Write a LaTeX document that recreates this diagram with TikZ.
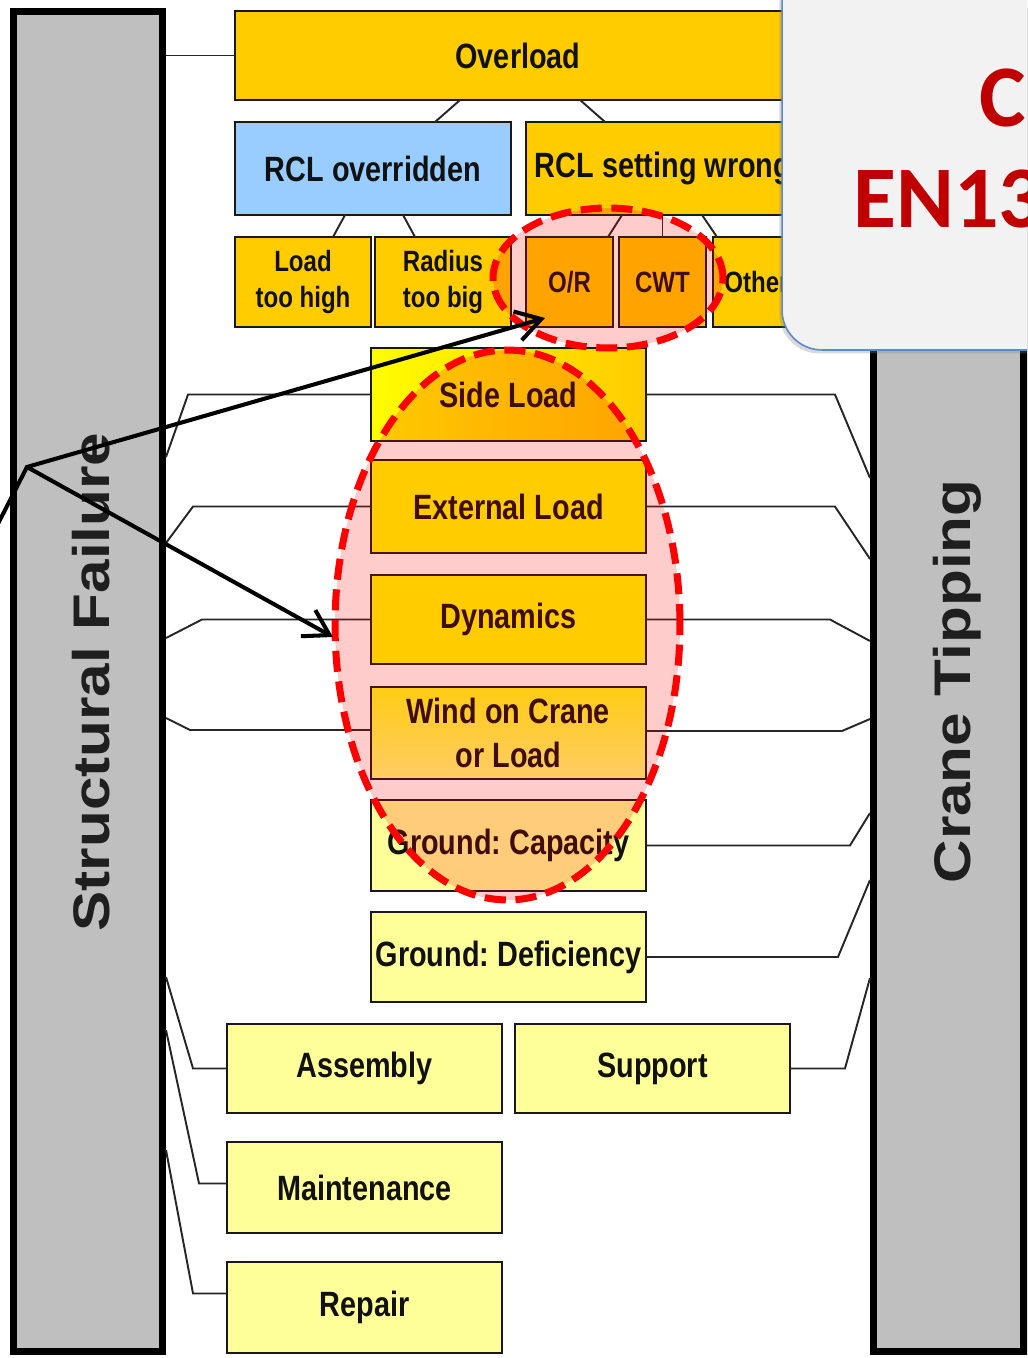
\documentclass[tikz,border=0pt]{standalone}
\usepackage{fontspec}
\setmainfont{Liberation Sans}
\newfontfamily\narrowfont[FakeStretch=0.82]{Liberation Sans}
\newfontfamily\widefont[FakeStretch=1.17]{Liberation Sans}
\newfontfamily\calfont{Carlito}
\usetikzlibrary{shapes.geometric,arrows.meta,calc,shadows}
\definecolor{gold}{HTML}{FFCC00}
\definecolor{lblue}{HTML}{99CCFF}
\definecolor{pyellow}{HTML}{FFFF99}
\definecolor{yel}{HTML}{FFFF00}
\definecolor{windyel}{HTML}{FFFF80}
\definecolor{panelgray}{HTML}{BFBFBF}
\definecolor{calloutbg}{HTML}{F2F2F2}
\definecolor{calloutedge}{HTML}{5B8BC9}
\definecolor{darkred}{HTML}{C00000}
\definecolor{txt}{HTML}{111111}
\frenchspacing
\begin{document}
\begin{tikzpicture}[x=0.02cm,y=-0.02cm,
  box/.style={draw=black!90, line width=1.1pt, inner sep=0pt, outer sep=0pt, align=center,
    font=\narrowfont\bfseries\fontsize{20}{25}\selectfont, text=txt},
  smallbox/.style={box, font=\narrowfont\bfseries\fontsize{16.7}{21}\selectfont},
  panel/.style={draw=black, line width=4pt, fill=panelgray, inner sep=0pt},
  paneltext/.style={rotate=90, anchor=base, inner sep=0pt, font=\widefont\bfseries\fontsize{29.3}{34}\selectfont, text=black!88},
  conn/.style={line width=1.1pt, draw=black!85},
  halo/.style={ellipse, inner sep=0pt, fill=red, fill opacity=0.2, draw=red, draw opacity=1,
    line width=4pt, dash pattern=on 12pt off 5.5pt},
  pointer/.style={line width=2.3pt, draw=black, line join=miter},
  tipped/.style={pointer, -{Straight Barb[length=14pt,width=17pt]}}
]
\useasboundingbox (0,0) rectangle (1027,1358);
\clip (0,0) rectangle (1027,1358);

% side panels
\node[panel, minimum width=2.98cm, minimum height=26.82cm] (sfp) at (88,681.5) {};
\node[panel, minimum width=3.01cm, minimum height=26.82cm] (ctp) at (948.75,681.5) {};
\node[paneltext] (sftext) at (109,682) {Structural Failure};
\node[paneltext] (cttext) at (970,681.5) {Crane Tipping};

% boxes
\node[box, fill=gold, minimum width=11.32cm, minimum height=1.78cm] (overload) at (518,55.5) {Overload};
\node[box, fill=lblue, minimum width=5.52cm, minimum height=1.86cm] (rclov) at (373,168.5) {RCL overridden};
\node[box, fill=gold, minimum width=5.48cm, minimum height=1.86cm] (rclset) at (663,168.5) {RCL setting wrong};
\node[smallbox, fill=gold, minimum width=2.72cm, minimum height=1.8cm] (load) at (303,282) {Load\\too high};
\node[smallbox, fill=gold, minimum width=2.72cm, minimum height=1.8cm] (radius) at (443,282) {Radius\\too big};
\node[smallbox, fill=gold, minimum width=1.74cm, minimum height=1.8cm] (or) at (569.5,282) {O/R};
\node[smallbox, fill=gold, minimum width=1.74cm, minimum height=1.8cm] (cwt) at (662.5,282) {CWT};
\node[smallbox, fill=gold, minimum width=1.74cm, minimum height=1.8cm, anchor=west] (other) at (713,282) {Other};
\node[box, left color=yel!95!gold, right color=gold, minimum width=5.5cm, minimum height=1.86cm] (sideload) at (508.5,394.5) {Side Load};
\node[box, fill=yel, minimum width=5.5cm, minimum height=1.86cm] (external) at (508.5,506.5) {External Load};
\node[box, fill=yel, minimum width=5.5cm, minimum height=1.78cm] (dynamics) at (508.5,619.5) {Dynamics};
\node[box, top color=yel!80!windyel, bottom color=windyel, minimum width=5.5cm, minimum height=1.84cm] (wind) at (508.5,733) {Wind on Crane\\or Load};
\node[box, fill=pyellow, minimum width=5.5cm, minimum height=1.82cm] (gcap) at (508.5,845.5) {Ground: Capacity};
\node[box, fill=pyellow, minimum width=5.5cm, minimum height=1.8cm] (gdef) at (508.5,957) {Ground: Deficiency};
\node[box, fill=pyellow, minimum width=5.5cm, minimum height=1.78cm] (assembly) at (364.5,1068.5) {Assembly};
\node[box, fill=pyellow, minimum width=5.5cm, minimum height=1.78cm] (support) at (652.5,1068.5) {Support};
\node[box, fill=pyellow, minimum width=5.5cm, minimum height=1.82cm] (maint) at (364.5,1187.5) {Maintenance};
\node[box, fill=pyellow, minimum width=5.5cm, minimum height=1.82cm] (repair) at (364.5,1307.5) {Repair};

% tree connectors
\draw[conn] ($(overload.south west)+(225,0)$) -- ($(rclov.north west)+(200,0)$);
\draw[conn] ($(overload.south west)+(345,0)$) -- ($(rclset.north west)+(79,0)$);
\draw[conn] ($(rclov.south west)+(110,0)$) -- ($(load.north west)+(98,0)$);
\draw[conn] ($(rclov.south west)+(168,0)$) -- ($(radius.north west)+(40,0)$);
\draw[conn] ($(rclset.south west)+(96,0)$) -- ($(or.north west)+(82,0)$);
\draw[conn] (cwt.north |- rclset.south) -- (cwt.north);
\draw[conn] ($(rclset.south west)+(176,0)$) -- ($(other.north west)+(4,0)$);

% connectors to Structural Failure
\draw[conn] (overload.west) -- (overload.west -| sfp.east);
\draw[conn] (sideload.west) -- ++(-183,0) -- (sfp.east |- 0,457);
\draw[conn] (external.west) -- ++(-178,0) -- (sfp.east |- 0,543);
\draw[conn] (dynamics.west) -- ++(-169,0) -- (sfp.east |- 0,638);
\draw[conn] ($(wind.west)+(0,-3)$) -- ++(-181,0) -- (sfp.east |- 0,718);
\draw[conn] (assembly.west) -- ++(-34,0) -- (sfp.east |- 0,977);
\draw[conn] ($(maint.west)+(0,-4)$) -- ++(-28,0) -- (sfp.east |- 0,1030);
\draw[conn] ($(repair.west)+(0,-14)$) -- ++(-34,0) -- (sfp.east |- 0,1150);

% connectors to Crane Tipping
\draw[conn] (sideload.east) -- ++(189,0) -- (ctp.west |- 0,478);
\draw[conn] (external.east) -- ++(189,0) -- (ctp.west |- 0,559);
\draw[conn] (dynamics.east) -- ++(184,0) -- (ctp.west |- 0,641);
\draw[conn] ($(wind.east)+(0,-2)$) -- ++(196,0) -- (ctp.west |- 0,719);
\draw[conn] (gcap.east) -- ++(204,0) -- (ctp.west |- 0,813);
\draw[conn] (gdef.east) -- ++(192,0) -- (ctp.west |- 0,880);
\draw[conn] (support.east) -- ++(55,0) -- (ctp.west |- 0,978);

% highlight ellipses
\node[halo, minimum width=6.9cm, minimum height=11cm] (bigring) at (507.5,625) {};
\node[halo, minimum width=4.6cm, minimum height=2.8cm] (smallring) at (608,278) {};

% pointers
\coordinate (pin) at (-20,559);
\coordinate (fork) at (27,467);
\coordinate (tipa) at ($(or.south west)+(19,-9)$);
\coordinate (tipb) at (333,637);
\draw[tipped] (pin) -- (fork) -- (tipa);
\draw[tipped] (fork) -- (tipb);

% callout
\node[draw=calloutedge, line width=0.9pt, fill=calloutbg, rounded corners=0.8cm,
  minimum width=5.96cm, minimum height=7.8cm,
  drop shadow={shadow xshift=-1.5pt, shadow yshift=-2pt, opacity=0.3}] (callout) at (931,155) {};
\node[anchor=base west, inner sep=0pt, text=darkred, font=\calfont\bfseries\fontsize{50}{60}\selectfont] (calla) at (979,127) {C};
\node[anchor=base west, inner sep=0pt, text=darkred, font=\calfont\bfseries\fontsize{50}{60}\selectfont] (callb) at (853,228) {EN13};
\end{tikzpicture}
\end{document}
